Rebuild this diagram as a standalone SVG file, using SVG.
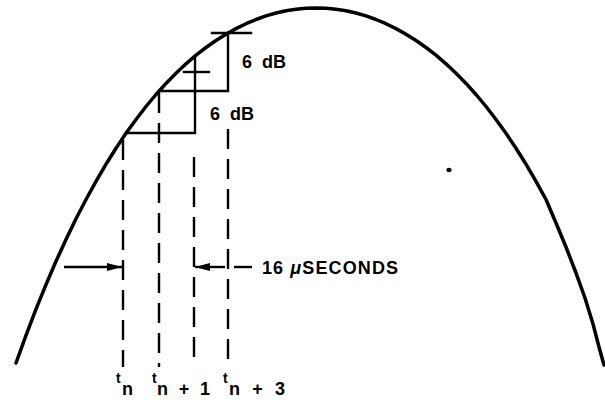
<svg xmlns="http://www.w3.org/2000/svg" width="605" height="400" viewBox="0 0 605 400">
<style>
.curve{fill:none;stroke:#000;stroke-width:3.5;stroke-linejoin:round;stroke-linecap:round}
.solid{fill:none;stroke:#000;stroke-width:2.4;stroke-linecap:square}
.dash{fill:none;stroke:#000;stroke-width:2.4;stroke-dasharray:20 10}
.arr{fill:none;stroke:#000;stroke-width:2.4}
.lbl{font-family:"Liberation Sans",Arial,sans-serif;font-weight:bold;fill:#000}
</style>
<defs>
<marker id="ah" viewBox="0 0 15 8" refX="15" refY="4" markerWidth="15" markerHeight="8" markerUnits="userSpaceOnUse" orient="auto">
<path d="M0,0 L15,4 L0,8 Z" fill="#000"/>
</marker>
</defs>
<rect width="605" height="400" fill="#fff"/>
<g id="envelope">
<path class="curve" d="M16,363 L26,335.3 L36,309.2 L46,284.6 L56,261.3 L66,239.5 L76,218.8 L86,199.5 L96,181.3 L106,164.2 L116,148.2 L126,133.3 L136,119.5 L146,106.5 L156,94.5 L166,83.4 L176,73.3 L186,63.8 L196,55.2 L206,47.5 L216,40.5 L226,34.2 L236,28.6 L246,23.7 L256,19.5 L266,15.9 L276,13 L286,10.8 L296,9.3 L306,8.3 L316,8 L326,8.3 L336,9.3 L346,10.8 L356,13 L366,15.9 L376,19.5 L386,23.7 L396,28.6 L406,34.2 L416,40.5 L426,47.5 L436,55.2 L446,63.8 L456,73.3 L466,83.4 L476,94.5 L486,106.5 L496,119.5 L506,133.3 L516,148.2 L526,164.2 L536,181.3 L546,199.5 L556,223 L566,247 L576,273 L585,298 L593,324 L599,347 L604,365"/>
</g>
<g id="steps">
<path class="solid" d="M126,133 L195,133 L195,56"/>
<path class="solid" d="M160,91 L228,91 L228,33"/>
<line class="solid" x1="212" y1="33" x2="251" y2="33"/>
<line class="solid" x1="184" y1="72" x2="209" y2="72"/>
</g>
<g id="connectors">
<line class="dash" x1="123" y1="140" x2="123" y2="367"/>
<line class="dash" x1="159" y1="93" x2="159" y2="367"/>
<line class="dash" x1="194" y1="157" x2="194" y2="367"/>
<line class="dash" x1="228" y1="129" x2="228" y2="367"/>
<line class="arr" x1="64" y1="267" x2="122" y2="267" marker-end="url(#ah)"/>
<line class="arr" x1="225" y1="267" x2="195" y2="267" marker-end="url(#ah)"/>
<line class="arr" x1="234" y1="267" x2="252" y2="267"/>
</g>
<g id="labels">
<text class="lbl" x="242" y="68" font-size="18">6 <tspan x="262">dB</tspan></text>
<text class="lbl" x="210" y="120" font-size="18">6 <tspan x="230">dB</tspan></text>
<text class="lbl" x="262" y="274" font-size="18" textLength="136" lengthAdjust="spacing">16 <tspan font-style="italic">μ</tspan>SECONDS</text>
<text class="lbl" x="116" y="383" font-size="14">t</text>
<text class="lbl" x="122" y="395" font-size="18">n</text>
<text class="lbl" x="152" y="383" font-size="14">t</text>
<text class="lbl" x="157" y="395" font-size="18" textLength="53" lengthAdjust="spacing">n + 1</text>
<text class="lbl" x="223" y="383" font-size="14">t</text>
<text class="lbl" x="229" y="395" font-size="18" textLength="56" lengthAdjust="spacing">n + 3</text>
</g>
<ellipse cx="449" cy="170" rx="2.6" ry="2.2" fill="#000"/>
</svg>
